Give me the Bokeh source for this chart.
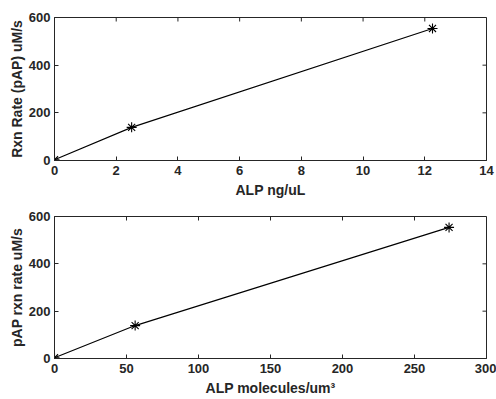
import math
from bokeh.plotting import figure
from bokeh.layouts import column
from bokeh.models import FixedTicker, Range1d
from bokeh.embed import file_html
from bokeh.resources import INLINE

alp_ng_ul = [0, 2.5, 12.25]
alp_molecules = [0, 56, 274]
rxn_rate = [3, 139, 554]

top_xticks = [0, 2, 4, 6, 8, 10, 12, 14]
bot_xticks = [0, 50, 100, 150, 200, 250, 300]
yticks = [0, 200, 400, 600]

FONT = "Liberation Sans"
DARK = "#262626"


def style_axis(ax, ticks, tick_standoff, label_standoff):
    ax.ticker = FixedTicker(ticks=ticks)
    ax.minor_tick_line_color = None
    ax.major_tick_in = 4
    ax.major_tick_out = 0
    ax.axis_line_color = DARK
    ax.major_tick_line_color = DARK
    ax.major_label_text_font = FONT
    ax.major_label_text_font_style = "bold"
    ax.major_label_text_color = DARK
    ax.major_label_text_font_size = "13px"
    ax.major_label_standoff = tick_standoff
    ax.axis_label_text_font = FONT
    ax.axis_label_text_font_style = "bold"
    ax.axis_label_text_font_size = "14px"
    ax.axis_label_text_color = DARK
    ax.axis_label_standoff = label_standoff


def make_fig(x, y, xr, xticks, xlabel, ylabel, height, mtop, mbot):
    p = figure(width=496, height=height, output_backend="svg", toolbar_location=None,
               x_range=Range1d(*xr), y_range=Range1d(0, 600),
               min_border_left=54, min_border_right=10,
               min_border_top=mtop, min_border_bottom=mbot)
    p.grid.visible = False
    p.outline_line_color = DARK
    p.outline_line_alpha = 1
    p.background_fill_color = "white"
    p.border_fill_color = "white"
    style_axis(p.xaxis[0], xticks, 5, 4)
    style_axis(p.yaxis[0], yticks, 4, 1)
    p.xaxis[0].axis_label = xlabel
    p.yaxis[0].axis_label = ylabel
    # ticks on top and right edges of the box (MATLAB style)
    p.ray(x=xticks, y=[yticks[-1]] * len(xticks), length=4, angle=-math.pi / 2,
          length_units="screen", line_color=DARK, line_width=1)
    p.ray(x=[xr[1]] * len(yticks), y=yticks, length=4, angle=math.pi,
          length_units="screen", line_color=DARK, line_width=1)
    p.line(x, y, line_color="black", line_width=1.1)
    p.scatter(x, y, marker="asterisk", size=10, line_color="black", line_width=1.1)
    return p


p1 = make_fig(alp_ng_ul, rxn_rate, (0, 14), top_xticks, "ALP ng/uL", "Rxn Rate (pAP) uM/s", 200, 17, 40)
p2 = make_fig(alp_molecules, rxn_rate, (0, 300), bot_xticks, "ALP molecules/um³", "pAP rxn rate uM/s", 199, 16, 41)

layout = column(p1, p2, spacing=0)
open("out.html", "w").write(file_html(layout, INLINE))
